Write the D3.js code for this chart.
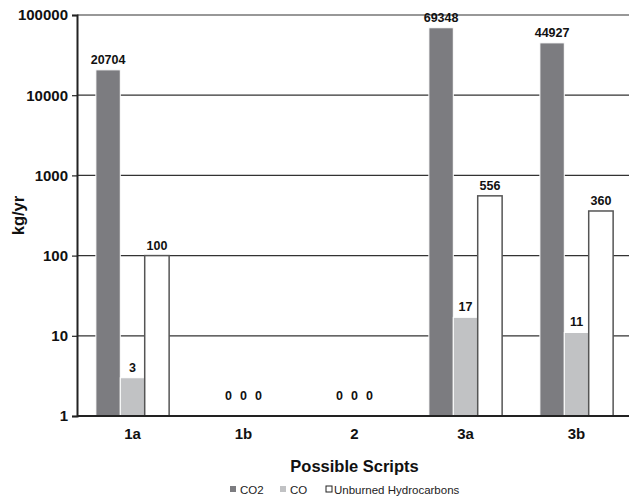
<!DOCTYPE html>
<html>
<head>
<meta charset="utf-8">
<script src="https://cdn.jsdelivr.net/npm/d3@7"></script>
<style>
  body { margin: 0; background: #fff; }
  text { font-family: "Liberation Sans", Arial, sans-serif; }
</style>
</head>
<body>
<script>
var WIDTH = 629, HEIGHT = 504;
var categories = ["1a", "1b", "2", "3a", "3b"];
var seriesNames = ["CO2", "CO", "Unburned Hydrocarbons"];
var co2 = [20704, 0, 0, 69348, 44927];
var co = [3, 0, 0, 17, 11];
var uhc = [100, 0, 0, 556, 360];
var yTicks = [1, 10, 100, 1000, 10000, 100000];
var fills = ["#7c7c80", "#c1c2c4", "#ffffff"];

var series = [co2, co, uhc];

var svg = d3.select("body").append("svg")
  .attr("width", WIDTH)
  .attr("height", HEIGHT);

// plot edges (don't use "top", it's window.top)
var PL = 77, PR = 632, PT = 15, PB = 416;

var y = d3.scaleLog().domain([1, 100000]).range([PB, PT]);
var x = d3.scaleBand().domain(categories).range([PL, PR])
  .paddingInner(0.34).paddingOuter(0.17);
var xs = d3.scaleBand().domain(d3.range(3)).range([0, x.bandwidth()]);

// gridlines
svg.append("g").selectAll("line").data(yTicks.slice(1)).enter().append("line")
  .attr("x1", PL).attr("x2", WIDTH)
  .attr("y1", d => y(d)).attr("y2", d => y(d))
  .attr("stroke", "#333").attr("stroke-width", 1.2);

// y axis
var yAxis = d3.axisLeft(y).tickValues(yTicks).tickFormat(d3.format("d")).tickSize(5).tickPadding(4);
var ya = svg.append("g").attr("transform", "translate(" + PL + ",0)").call(yAxis);
ya.select(".domain").attr("stroke", "#222").attr("stroke-width", 2);
ya.selectAll(".tick line").attr("stroke", "#222").attr("stroke-width", 1.2);
ya.selectAll(".tick text").attr("font-size", 15).attr("font-weight", "bold").attr("fill", "#111")
  .attr("font-family", "Liberation Sans, Arial, sans-serif");

// bars
var flat = [];
categories.forEach((c, i) => {
  series.forEach((s, j) => {
    flat.push({cat: c, k: j, v: s[i]});
  });
});

svg.append("g").selectAll("rect").data(flat.filter(d => d.v > 0)).enter().append("rect")
  .attr("x", d => x(d.cat) + xs(d.k))
  .attr("width", xs.bandwidth())
  .attr("y", d => y(d.v))
  .attr("height", d => PB - y(d.v))
  .attr("fill", d => fills[d.k])
  .attr("stroke", d => d.k == 2 ? "#555" : "#fff")
  .attr("stroke-width", d => d.k == 2 ? 1.5 : 1);

// value labels
svg.append("g").selectAll("text").data(flat.filter(d => d.v > 0)).enter().append("text")
  .attr("x", d => x(d.cat) + xs(d.k) + xs.bandwidth() / 2)
  .attr("y", d => y(d.v) - 6)
  .attr("text-anchor", "middle")
  .attr("font-size", 12.5).attr("font-weight", "bold").attr("fill", "#111")
  .text(d => d.v);

// zero labels (clustered at the bottom)
svg.append("g").selectAll("text").data(flat.filter(d => d.v == 0)).enter().append("text")
  .attr("x", d => x(d.cat) + x.bandwidth() / 2 + (d.k - 1) * 15)
  .attr("y", 400)
  .attr("text-anchor", "middle")
  .attr("font-size", 12.5).attr("font-weight", "bold").attr("fill", "#111")
  .text(d => d.v);

// x axis
var xAxis = d3.axisBottom(x).tickSize(0).tickPadding(12);
var xa = svg.append("g").attr("transform", "translate(0," + PB + ")").call(xAxis);
xa.select(".domain").attr("stroke", "#222").attr("stroke-width", 2).attr("d", "M" + PL + ",0H" + WIDTH);
xa.selectAll(".tick text").attr("font-size", 15).attr("font-weight", "bold").attr("fill", "#111")
  .attr("font-family", "Liberation Sans, Arial, sans-serif");

// axis titles
svg.append("text")
  .attr("x", (PL + PR) / 2).attr("y", 472)
  .attr("text-anchor", "middle")
  .attr("font-size", 16.5).attr("font-weight", "bold").attr("fill", "#111")
  .text("Possible Scripts");

svg.append("text")
  .attr("transform", "translate(24," + ((PT + PB) / 2) + ") rotate(-90)")
  .attr("text-anchor", "middle")
  .attr("font-size", 16.5).attr("font-weight", "bold").attr("fill", "#111")
  .text("kg/yr");

// legend
var legendX = [230, 280, 326];
var lg = svg.append("g").selectAll("g").data(seriesNames).enter().append("g")
  .attr("transform", (d, i) => "translate(" + legendX[i] + ",490)");
lg.append("rect")
  .attr("x", 0).attr("y", -4).attr("width", 6).attr("height", 6)
  .attr("fill", (d, i) => fills[i])
  .attr("stroke", (d, i) => i == 2 ? "#222" : "none");
lg.append("text")
  .attr("x", (d, i) => i == 2 ? 8 : 10).attr("y", 3.5)
  .attr("font-size", 11.5).attr("fill", "#222")
  .text(d => d);
</script>
</body>
</html>
